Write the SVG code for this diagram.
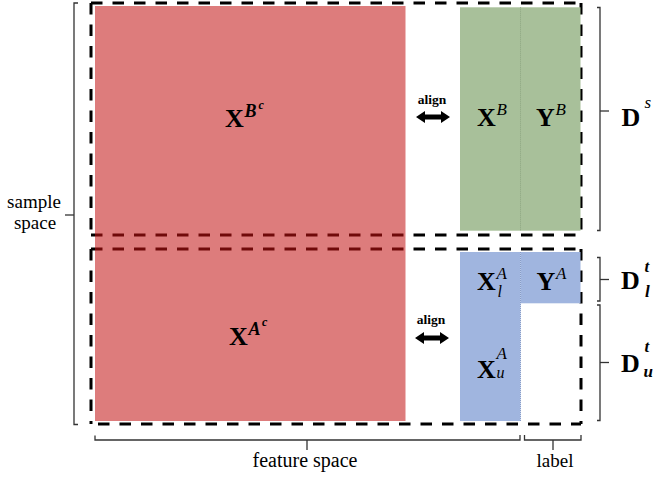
<svg xmlns="http://www.w3.org/2000/svg" width="654" height="477" viewBox="0 0 654 477">
  <style>
    .serif { font-family: "Liberation Serif", "Times New Roman", serif; fill: #000; }
    .big { font-size: 26px; font-weight: bold; }
    .sup { font-size: 17px; font-style: italic; font-weight: normal; }
    .sub { font-size: 16px; font-style: italic; font-weight: normal; }
    .supb { font-size: 17px; font-style: italic; font-weight: bold; }
    .sup2 { font-size: 12px; font-style: italic; font-weight: bold; }
    .cap { font-size: 19px; }
    .align { font-size: 13.5px; font-weight: bold; }
    .dash { fill: none; stroke-width: 3; stroke-dasharray: 11.5 10; }
    .brace { fill: none; stroke: #333; stroke-width: 1.3; }
    .divider { stroke-width: 1; stroke-dasharray: 1 1; }
  </style>
  <defs>
    <!-- the two horizontal box edges that cross the red block -->
    <path id="edgeA" d="M91,235 H581"/>
    <path id="edgeB" d="M91,249 H581"/>
    <clipPath id="redClip">
      <rect x="95" y="6" width="310.5" height="415"/>
    </clipPath>
  </defs>

  <rect width="654" height="477" fill="#fff"/>

  <!-- dashed outlines of the source (top) and target (bottom) domains -->
  <g id="domain-boxes" class="dash" stroke="#000">
    <path d="M91,3 H581"/>
    <path d="M91,3 V235"/>
    <path d="M581,3 V235"/>
    <use href="#edgeA"/>
    <use href="#edgeB"/>
    <path d="M91,249 V424"/>
    <path d="M581,249 V424"/>
    <path d="M98,424 H581"/>
  </g>

  <!-- non-overlapping features block -->
  <g id="block-red">
    <rect x="95" y="6" width="310.5" height="415" fill="#DD7C7C"/>
    <g clip-path="url(#redClip)" class="dash" stroke="#700A0A">
      <use href="#edgeA"/>
      <use href="#edgeB"/>
    </g>
    <text class="serif big" x="225" y="127">X<tspan class="supb" style="font-size:18px" x="244.5" y="117">B</tspan><tspan class="sup2" x="258.5" y="108.5">c</tspan></text>
    <text class="serif big" x="229" y="345">X<tspan class="supb" style="font-size:18px" x="248.5" y="335">A</tspan><tspan class="sup2" x="262" y="325.5">c</tspan></text>
  </g>

  <!-- source domain: features and labels -->
  <g id="block-green">
    <rect x="460" y="7.3" width="120.5" height="223.4" fill="#A8C09A"/>
    <line class="divider" x1="520.5" y1="7.3" x2="520.5" y2="230.7" stroke="#8DA680"/>
    <text class="serif big" x="477" y="126">X<tspan class="sup" x="496.5" y="115">B</tspan></text>
    <text class="serif big" x="536" y="126">Y<tspan class="sup" x="555.5" y="115">B</tspan></text>
  </g>

  <!-- target domain: labelled and unlabelled parts -->
  <g id="block-blue">
    <rect x="460" y="252" width="60.5" height="169" fill="#A0B5DF"/>
    <rect x="520.5" y="252" width="60" height="51.3" fill="#A0B5DF"/>
    <line class="divider" x1="520.5" y1="252" x2="520.5" y2="421" stroke="#879CC8"/>
    <text class="serif big" x="477" y="290">X<tspan class="sup" x="496.5" y="279">A</tspan><tspan class="sub" x="497.5" y="297">l</tspan></text>
    <text class="serif big" x="536.5" y="290">Y<tspan class="sup" x="556" y="279">A</tspan></text>
    <text class="serif big" x="477" y="377.5">X<tspan class="sup" x="496.5" y="359">A</tspan><tspan class="sub" x="496.5" y="378">u</tspan></text>
  </g>

  <!-- domain labels on the right -->
  <g id="label-ds">
    <text class="serif big" x="621.5" y="126">D<tspan class="sup" x="644.5" y="108">s</tspan></text>
  </g>
  <g id="label-dlt">
    <text class="serif big" x="621" y="288.5">D<tspan class="supb" x="644.5" y="271.7">t</tspan><tspan class="supb" x="645" y="296.5">l</tspan></text>
  </g>
  <g id="label-dut">
    <text class="serif big" x="621" y="371.7">D<tspan class="supb" x="644.5" y="351.7">t</tspan><tspan class="supb" x="643.5" y="376.5">u</tspan></text>
  </g>

  <!-- axis captions -->
  <g id="axis-captions">
    <text class="serif cap" text-anchor="middle" x="34" y="208">sample</text>
    <text class="serif cap" text-anchor="middle" x="35" y="229">space</text>
    <text class="serif cap" text-anchor="middle" x="305" y="466.5" style="font-size:20px">feature space</text>
    <text class="serif cap" text-anchor="middle" x="555" y="467">label</text>
  </g>

  <!-- align markers -->
  <g id="align-top">
    <text class="serif align" text-anchor="middle" x="432" y="104">align</text>
  </g>
  <g id="align-bottom">
    <text class="serif align" text-anchor="middle" x="431" y="324">align</text>
  </g>

  <g id="connectors">
    <polygon fill="#000" points="416,117 425,111 425,114.5 441,114.5 441,111 450,117 441,123 441,119.5 425,119.5 425,123"/>
    <polygon fill="#000" points="415,338 424,332 424,335.5 440,335.5 440,332 449,338 440,344 440,340.5 424,340.5 424,344"/>
    <g class="brace">
      <path d="M78,3 H74 V424.5 H78"/>
      <path d="M65,215 H74"/>
      <path d="M95,435.5 V440 H520 V435"/>
      <path d="M307,440 V450"/>
      <path d="M524.5,435 V440 H581 V435"/>
      <path d="M553,440 V450"/>
      <path d="M597,7.5 H600 V230.5 H597"/>
      <path d="M600,111 H609"/>
      <path d="M597,257.5 H600 V301 H597"/>
      <path d="M600,279.5 H609"/>
      <path d="M597,305 H600 V420.5 H597"/>
      <path d="M600,362.5 H609"/>
    </g>
  </g>
</svg>
